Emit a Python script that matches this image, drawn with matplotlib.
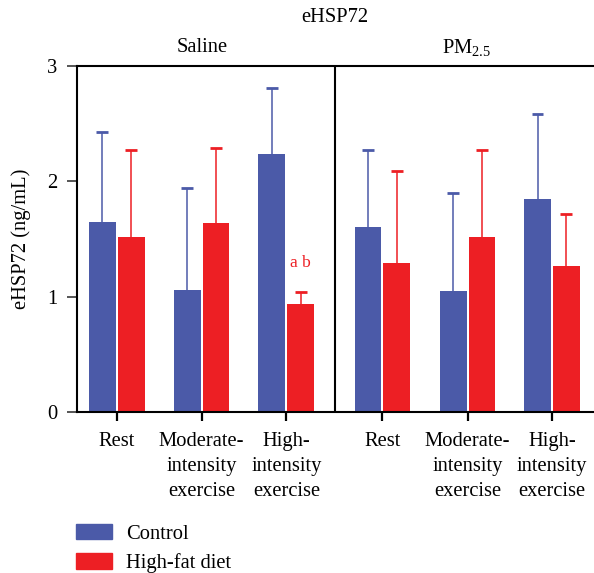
import numpy as np
import matplotlib.pyplot as plt
from matplotlib.patches import Patch

plt.rcParams['font.family'] = ['Liberation Serif', 'DejaVu Serif']
plt.rcParams['mathtext.fontset'] = 'custom'
plt.rcParams['mathtext.rm'] = 'Liberation Serif'
plt.rcParams['mathtext.it'] = 'Liberation Serif:italic'

# data
groups = ["Rest", "Moderate-\nintensity\nexercise", "High-\nintensity\nexercise"]
panels = ["Saline", "PM$_{2.5}$"]
control_mean = [1.65, 1.06, 2.24, 1.60, 1.05, 1.85]
control_err = [0.78, 0.88, 0.57, 0.67, 0.85, 0.73]
hfd_mean = [1.52, 1.64, 0.94, 1.29, 1.52, 1.27]
hfd_err = [0.75, 0.65, 0.10, 0.80, 0.75, 0.45]

BLUE = '#4b5aa8'
RED = '#ed1f24'
FS = 14.8

fig = plt.figure(figsize=(5.94, 5.73), dpi=100)
ax = fig.add_axes([77/594, 1-412/573, (600-77)/594, (412-66)/573])

x = np.array([0, 1, 2, 3.133, 4.138, 5.133])
w = 0.318
off = 0.17
cap = 0.07

for xs, m, e, c in [(x - off, control_mean, control_err, BLUE),
                    (x + off, hfd_mean, hfd_err, RED)]:
    m = np.array(m)
    e = np.array(e)
    ax.bar(xs, m, width=w, color=c, zorder=2)
    ax.vlines(xs, m, m + e, color=c, lw=1.1, zorder=1)
    ax.hlines(m + e, xs - cap, xs + cap, color=c, lw=2.0, zorder=1)

ax.text(2.165, 1.29, 'a b', color=RED, fontsize=12.5, ha='center', va='center')

ax.set_xlim(-0.47, 5.70)
ax.set_ylim(0, 3)
ax.set_yticks([0, 1, 2, 3])
ax.set_xticks(x)
ax.set_xticklabels(groups * 2, fontsize=FS, linespacing=1.42)
ax.tick_params(axis='y', labelsize=FS, length=7, width=1.4, color='#555555', pad=7)
ax.tick_params(axis='x', length=6.5, width=1.6, color='black', pad=8)
ax.axvline(2.576, color='black', lw=1.5)
for s in ['left', 'top', 'bottom']:
    ax.spines[s].set_linewidth(1.5)
ax.spines['right'].set_visible(False)
ax.set_ylabel('eHSP72 (ng/mL)', fontsize=FS, labelpad=12)

fig.text(335/594, 1-17/573, 'eHSP72', fontsize=FS, ha='center', va='center')
fig.text(202/594, 1-47/573, panels[0], fontsize=FS, ha='center', va='center')
fig.text(467/594, 1-48/573, panels[1], fontsize=FS, ha='center', va='center')

handles = [Patch(color=BLUE), Patch(color=RED)]
fig.legend(handles, ['Control', 'High-fat diet'], loc='upper left',
           bbox_to_anchor=(76/594, 1-524/573), frameon=False, fontsize=FS,
           handlelength=1.75, handleheight=0.78, handletextpad=0.7,
           labelspacing=0.45, borderpad=0, borderaxespad=0)

fig.savefig('out.png', dpi=100)
